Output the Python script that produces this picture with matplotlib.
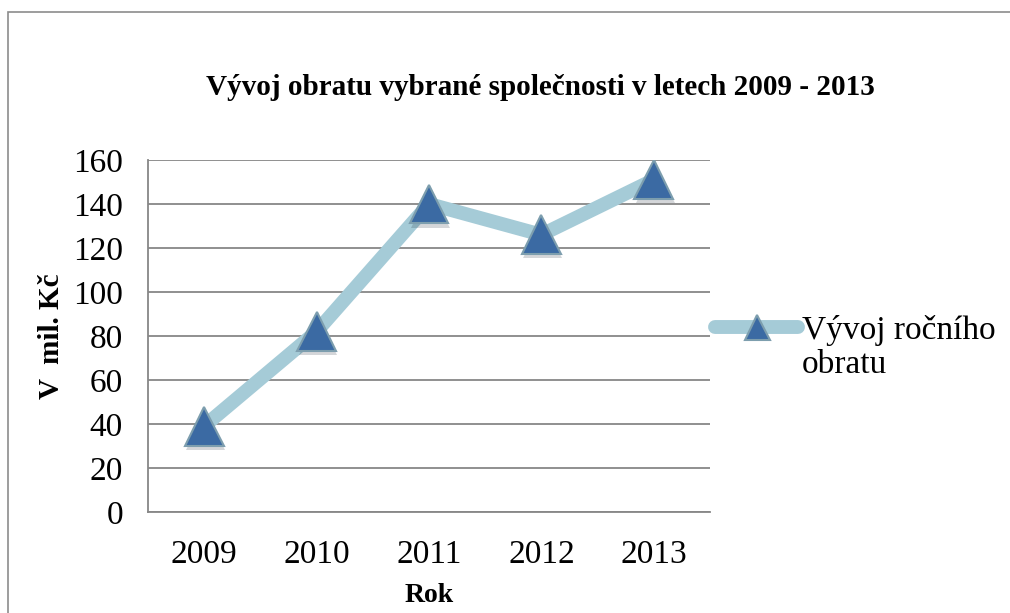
import matplotlib.pyplot as plt
import matplotlib.patheffects as pe
from matplotlib.lines import Line2D
from matplotlib.patches import Rectangle

years = ['2009', '2010', '2011', '2012', '2013']
obrat = [39, 82, 140, 126, 151]
yticks = [0, 20, 40, 60, 80, 100, 120, 140, 160]

plt.rcParams['font.family'] = ['Liberation Serif', 'DejaVu Serif']

line_col = '#a5cbd7'
marker_face = '#3b6aa3'
marker_edge = '#7d9eae'

fig = plt.figure(figsize=(10.1, 6.13), dpi=100)
ax = fig.add_axes([0.1465, 0.165, 0.5565, 0.574])

x = range(len(years))
ax.plot(x, obrat, color=line_col, lw=10, solid_capstyle='round', zorder=3)
ax.plot(x, obrat, ls='none', marker='^', ms=28, mfc=marker_face, mec=marker_edge, mew=1.5,
        zorder=4, path_effects=[pe.SimplePatchShadow(offset=(1, -3), alpha=0.18), pe.Normal()])

ax.set_xlim(-0.5, len(years) - 0.5)
ax.set_ylim(0, 160)
ax.set_yticks(yticks)
ax.set_xticks(list(x))
ax.set_xticklabels(years)
ax.tick_params(axis='both', length=0, labelsize=24)
ax.tick_params(axis='y', pad=18)
ax.tick_params(axis='x', pad=20)
ax.grid(axis='y', color='#878787', lw=1.3)
ax.set_axisbelow(True)
for s in ['top', 'right']:
    ax.spines[s].set_visible(False)
for s in ['left', 'bottom']:
    ax.spines[s].set_color('#878787')
    ax.spines[s].set_linewidth(1.3)

ax.set_xlabel('Rok', fontsize=20, fontweight='bold', labelpad=9)
ax.set_ylabel('V  mil. Kč', fontsize=21, fontweight='bold', labelpad=6)
fig.text(0.535, 0.857, 'Vývoj obratu vybrané společnosti v letech 2009 - 2013',
         ha='center', va='center', fontsize=21, fontweight='bold')

handle = Line2D([], [], color=line_col, lw=10, solid_capstyle='round', marker='^', ms=18,
                mfc=marker_face, mec=marker_edge, mew=1.5)
leg = fig.legend([handle], ['Vývoj ročního'], loc='center left', bbox_to_anchor=(0.708, 0.461),
                 frameon=False, fontsize=24, handlelength=2.5, handletextpad=0.1,
                 borderpad=0, borderaxespad=0)

fig.patches.append(Rectangle((8 / 1010, -0.1), 1.1, 1.1 - 12 / 613, transform=fig.transFigure,
                             fill=False, ec='#8c8c8c', lw=1.2))

# second line of the legend label, placed under the first one
fig.canvas.draw()
bb = leg.get_texts()[0].get_window_extent()
fig.text(bb.x0 / fig.bbox.width, (bb.y0 - 4) / fig.bbox.height, 'obratu',
         ha='left', va='top', fontsize=24)

fig.savefig('out.png', dpi=100)
